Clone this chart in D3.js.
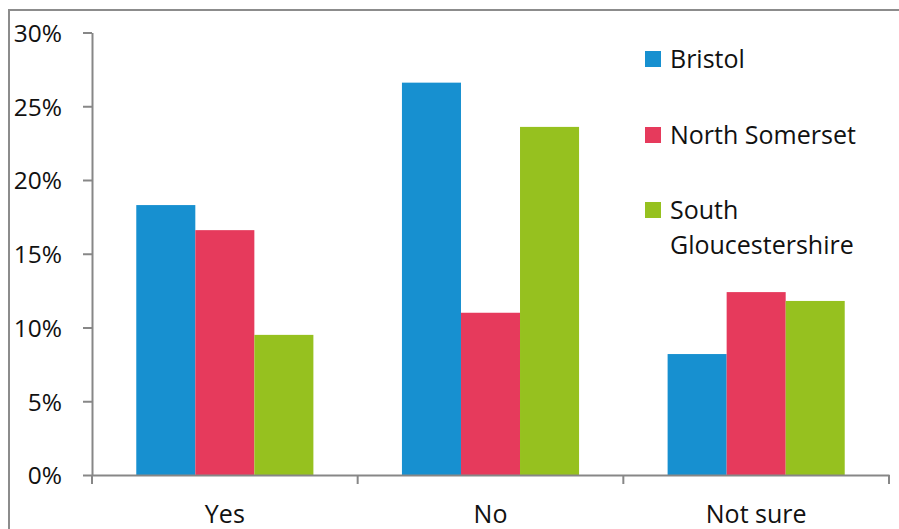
<!DOCTYPE html>
<html>
<head>
<meta charset="utf-8">
<script src="https://cdn.jsdelivr.net/npm/d3@7"></script>
<style>
  html, body { margin: 0; padding: 0; background: #fff; }
  svg { display: block; font-family: "Open Sans", "Noto Sans", sans-serif; }
</style>
</head>
<body>
<svg id="chart" width="899" height="529"></svg>
<script>
// Survey answers by area (percent of respondents)
const categories = ["Yes", "No", "Not sure"];
const seriesNames = ["Bristol", "North Somerset", "South Gloucestershire"];
const bristol = [18.3, 26.6, 8.2];
const northSomerset = [16.6, 11.0, 12.4];
const southGlos = [9.5, 23.6, 11.8];
const yTicks = [0, 5, 10, 15, 20, 25, 30];

const seriesValues = [bristol, northSomerset, southGlos];
const colors = ["#1790d0", "#e63a5c", "#96c11f"];
const axisColor = "#878787";
const textColor = "#111111";

const svg = d3.select("#chart");

// Outer frame of the chart area
svg.append("rect")
  .attr("x", 9).attr("y", 10)
  .attr("width", 960).attr("height", 600)
  .attr("fill", "none")
  .attr("stroke", "#8c8c8c")
  .attr("stroke-width", 2);

const plot = { left: 92, right: 889, top: 32.5, bottom: 475 };

const x0 = d3.scaleBand()
  .domain(categories)
  .range([plot.left, plot.right])
  .paddingInner(0).paddingOuter(0);

const x1 = d3.scaleBand()
  .domain(seriesNames)
  .range([0, x0.bandwidth()])
  .paddingInner(0).paddingOuter(0.75);

const y = d3.scaleLinear()
  .domain([0, 30])
  .range([plot.bottom, plot.top]);

// Bars
const rows = categories.map((c, i) => ({
  category: c,
  values: seriesNames.map((s, j) => ({ series: s, value: seriesValues[j][i], color: colors[j] }))
}));

const groups = svg.append("g").selectAll("g")
  .data(rows)
  .join("g")
  .attr("transform", d => `translate(${x0(d.category)},0)`);

groups.selectAll("rect")
  .data(d => d.values)
  .join("rect")
  .attr("x", d => x1(d.series))
  .attr("width", x1.bandwidth())
  .attr("y", d => y(d.value))
  .attr("height", d => y(0) - y(d.value))
  .attr("fill", d => d.color);

// Y axis
const yAxis = svg.append("g")
  .attr("transform", `translate(${plot.left},0)`)
  .call(d3.axisLeft(y)
    .tickValues(yTicks)
    .tickSize(9)
    .tickSizeOuter(0)
    .tickPadding(21)
    .tickFormat(d => d + "%"));
yAxis.select(".domain").attr("stroke", axisColor).attr("stroke-width", 2);
yAxis.selectAll(".tick line").attr("stroke", axisColor).attr("stroke-width", 2);
yAxis.selectAll(".tick text")
  .attr("fill", textColor)
  .attr("font-size", 24.5)
  .attr("font-family", "'Open Sans', sans-serif")
  .attr("dy", "0.36em");

// X axis: category labels centred, tick marks on category boundaries
const xAxis = svg.append("g")
  .attr("transform", `translate(0,${plot.bottom})`)
  .call(d3.axisBottom(x0).tickSize(0).tickSizeOuter(0).tickPadding(30));
xAxis.select(".domain").attr("stroke", axisColor).attr("stroke-width", 2);
xAxis.selectAll(".tick text")
  .attr("fill", textColor)
  .attr("font-size", 25)
  .attr("font-family", "'Open Sans', sans-serif");

const boundaries = categories.map(c => x0(c)).concat([x0(categories[categories.length - 1]) + x0.bandwidth()]);
xAxis.selectAll("line.boundary")
  .data(boundaries)
  .join("line")
  .attr("class", "boundary")
  .attr("x1", d => d).attr("x2", d => d)
  .attr("y1", 0).attr("y2", 9)
  .attr("stroke", axisColor)
  .attr("stroke-width", 2);

// Legend
const legendLines = [["Bristol"], ["North Somerset"], ["South", "Gloucestershire"]];
const legendBaselines = [68, 144, 219];
const legend = svg.append("g");
legendLines.forEach((lines, i) => {
  const base = legendBaselines[i];
  legend.append("rect")
    .attr("x", 645).attr("y", base - 17)
    .attr("width", 16).attr("height", 16)
    .attr("fill", colors[i]);
  const t = legend.append("text")
    .attr("x", 670).attr("y", base)
    .attr("font-size", 25)
    .attr("fill", textColor);
  lines.forEach((ln, k) => {
    t.append("tspan").attr("x", 670).attr("y", base + k * 35).text(ln);
  });
});
</script>
</body>
</html>
